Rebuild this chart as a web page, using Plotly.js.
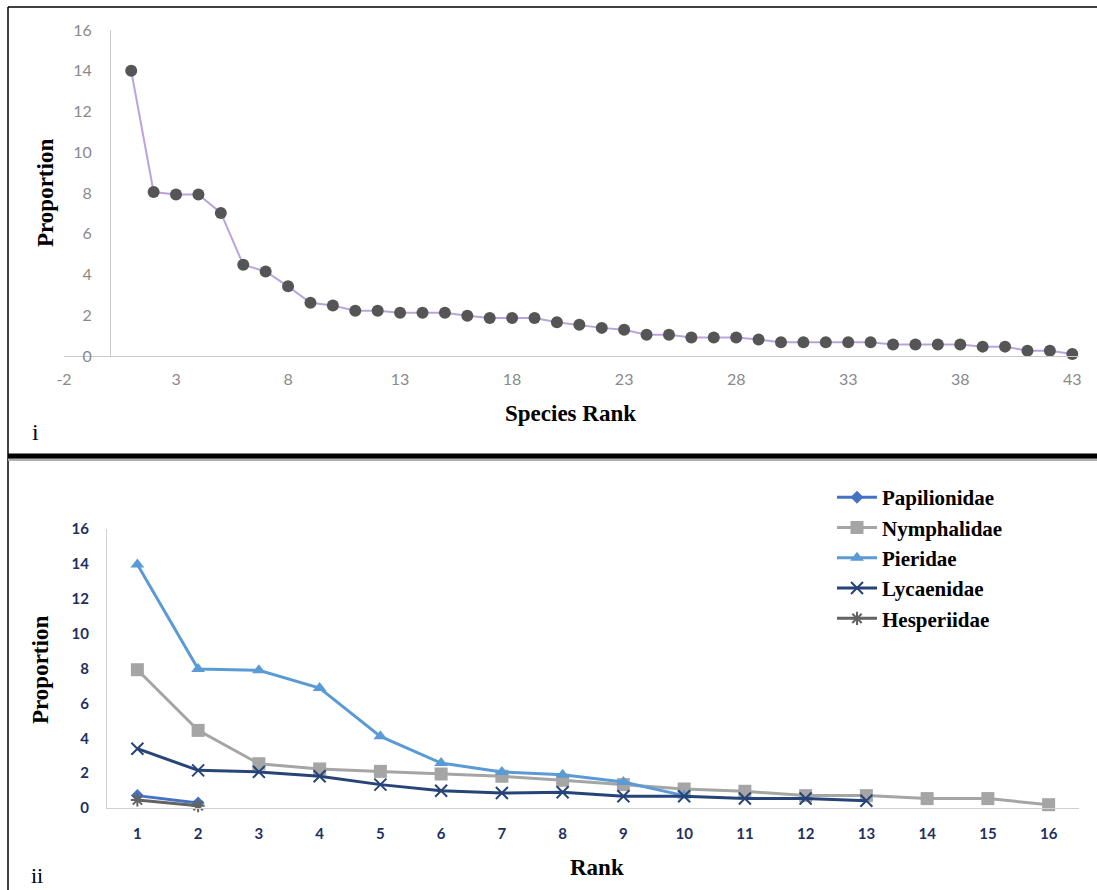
<!DOCTYPE html>
<html>
<head>
<meta charset="utf-8">
<script src="https://cdn.plot.ly/plotly-3.0.1.min.js"></script>
<style>
html,body{margin:0;padding:0;background:#fff;}
#chart{width:1097px;height:890px;}
</style>
</head>
<body>
<div id="chart"></div>
<script>
// ---- Panel i: species rank abundance ----
var speciesRank = [1,2,3,4,5,6,7,8,9,10,11,12,13,14,15,16,17,18,19,20,21,22,23,24,25,26,27,28,29,30,31,32,33,34,35,36,37,38,39,40,41,42,43];
var speciesProportion = [14.0,8.05,7.93,7.93,7.02,4.48,4.15,3.42,2.61,2.48,2.22,2.22,2.12,2.12,2.12,1.97,1.87,1.87,1.87,
  1.66,1.53,1.38,1.29,1.04,1.04,0.91,0.91,0.91,0.81,0.68,0.68,0.68,0.68,0.68,0.57,0.57,0.57,0.57,0.46,0.46,0.26,0.26,0.1];
var topXTicks = [-2,3,8,13,18,23,28,33,38,43];
var yTicks = [0,2,4,6,8,10,12,14,16];

// ---- Panel ii: rank by family ----
var familyNames = ["Papilionidae","Nymphalidae","Pieridae","Lycaenidae","Hesperiidae"];
var papilionidae = [0.71,0.29];
var nymphalidae = [7.93,4.45,2.54,2.24,2.1,1.95,1.82,1.59,1.34,1.09,0.96,0.71,0.71,0.54,0.54,0.19];
var pieridae = [13.96,7.97,7.9,6.88,4.11,2.58,2.07,1.91,1.49,0.71];
var lycaenidae = [3.4,2.16,2.07,1.82,1.34,0.99,0.86,0.9,0.67,0.67,0.54,0.54,0.42];
var hesperiidae = [0.46,0.13];
var rankTicks = [1,2,3,4,5,6,7,8,9,10,11,12,13,14,15,16];

function ranks(arr){ return arr.map(function(_, i){ return rankTicks[i]; }); }

var W = 1097, H = 890;
function px(x){ return x / W; }
function py(y){ return 1 - y / H; }

var serif = "Liberation Serif, Times New Roman, serif";
var sans = "Lato, Open Sans, sans-serif";
var navy = "#1f3060";

var traces = [
  {x: speciesRank, y: speciesProportion, xaxis: "x", yaxis: "y", type: "scatter", mode: "lines+markers",
   line: {color: "#b9a4e0", width: 2}, marker: {color: "#555555", size: 12, symbol: "circle"},
   showlegend: false, cliponaxis: false},
  {x: ranks(papilionidae), y: papilionidae, name: familyNames[0], legendgroup: "a", xaxis: "x2", yaxis: "y2",
   type: "scatter", mode: "lines+markers", line: {color: "#4472c4", width: 3},
   marker: {color: "#4472c4", size: 10, symbol: "diamond"}, cliponaxis: false},
  {x: ranks(nymphalidae), y: nymphalidae, name: familyNames[1], legendgroup: "b", xaxis: "x2", yaxis: "y2",
   type: "scatter", mode: "lines+markers", line: {color: "#a5a5a5", width: 3},
   marker: {color: "#a5a5a5", size: 13, symbol: "square"}, cliponaxis: false},
  {x: ranks(pieridae), y: pieridae, name: familyNames[2], legendgroup: "c", xaxis: "x2", yaxis: "y2",
   type: "scatter", mode: "lines+markers", line: {color: "#5b9bd5", width: 3},
   marker: {color: "#5b9bd5", size: 12, symbol: "triangle-up"}, cliponaxis: false},
  {x: ranks(lycaenidae), y: lycaenidae, name: familyNames[3], legendgroup: "d", xaxis: "x2", yaxis: "y2",
   type: "scatter", mode: "lines+markers", line: {color: "#264478", width: 3},
   marker: {color: "#264478", size: 12, symbol: "x-thin-open", line: {color: "#264478", width: 2}}, cliponaxis: false},
  {x: ranks(hesperiidae), y: hesperiidae, name: familyNames[4], legendgroup: "e", xaxis: "x2", yaxis: "y2",
   type: "scatter", mode: "lines+markers", line: {color: "#636363", width: 3},
   marker: {color: "#636363", size: 11, symbol: "asterisk-open", line: {color: "#636363", width: 2}}, cliponaxis: false}
];

var layout = {
  width: W, height: H,
  margin: {l: 0, r: 0, t: 0, b: 0},
  paper_bgcolor: "#fff", plot_bgcolor: "rgba(0,0,0,0)",
  showlegend: true,
  xaxis: {domain: [px(64), px(1079)], range: [-2, 43.3], tickvals: topXTicks, ticktext: topXTicks.map(String),
          showline: true, linecolor: "#c8c8c8", linewidth: 1, showgrid: false, zeroline: false,
          ticks: "", ticklabelstandoff: 9, tickfont: {family: sans, size: 16, color: "#8a8a8a"}, anchor: "y"},
  yaxis: {domain: [py(356), py(30)], range: [0, 16], tickvals: yTicks, anchor: "free", position: px(110),
          showline: true, linecolor: "#c8c8c8", linewidth: 1, showgrid: false, zeroline: false,
          ticks: "", ticklabelstandoff: 15, tickfont: {family: sans, size: 16, color: "#8a8a8a"}},
  xaxis2: {domain: [px(107), px(1079)], range: [0.5, 16.5], tickvals: rankTicks, anchor: "y2",
           showline: true, linecolor: "#d0d0d0", linewidth: 1, showgrid: false, zeroline: false,
           ticks: "", ticklabelstandoff: 12, tickfont: {family: sans, size: 15, color: navy, weight: "bold"}},
  yaxis2: {domain: [py(808), py(529)], range: [0, 16], tickvals: yTicks, anchor: "x2",
           showline: true, linecolor: "#d0d0d0", linewidth: 1, showgrid: false, zeroline: false,
           ticks: "", ticklabelstandoff: 14, tickfont: {family: sans, size: 15, color: navy, weight: "bold"}},
  legend: {x: px(832), y: py(477), xanchor: "left", yanchor: "top", bgcolor: "rgba(0,0,0,0)",
           font: {family: serif, size: 21, color: "#000", weight: "bold"}, tracegroupgap: 0, itemwidth: 40},
  annotations: [
    {text: "<b>Proportion</b>", xref: "paper", yref: "paper", x: px(45), y: py(193), textangle: -90,
     showarrow: false, font: {family: serif, size: 23, color: "#000"}, xanchor: "center", yanchor: "middle"},
    {text: "<b>Species Rank</b>", xref: "paper", yref: "paper", x: px(570), y: py(413),
     showarrow: false, font: {family: serif, size: 23, color: "#000"}, xanchor: "center", yanchor: "middle"},
    {text: "i", xref: "paper", yref: "paper", x: px(35), y: py(432),
     showarrow: false, font: {family: serif, size: 24, color: "#000"}, xanchor: "center", yanchor: "middle"},
    {text: "<b>Proportion</b>", xref: "paper", yref: "paper", x: px(40), y: py(670), textangle: -90,
     showarrow: false, font: {family: serif, size: 23, color: "#000"}, xanchor: "center", yanchor: "middle"},
    {text: "<b>Rank</b>", xref: "paper", yref: "paper", x: px(597), y: py(867),
     showarrow: false, font: {family: serif, size: 23, color: "#000"}, xanchor: "center", yanchor: "middle"},
    {text: "ii", xref: "paper", yref: "paper", x: px(37), y: py(875),
     showarrow: false, font: {family: serif, size: 22, color: "#000"}, xanchor: "center", yanchor: "middle"}
  ],
  shapes: [
    {type: "line", xref: "paper", yref: "paper", x0: px(8), x1: 1, y0: py(7), y1: py(7), line: {color: "#000", width: 1.5}},
    {type: "line", xref: "paper", yref: "paper", x0: px(8), x1: px(8), y0: py(7), y1: 0, line: {color: "#000", width: 1.5}},
    {type: "line", xref: "paper", yref: "paper", x0: px(8), x1: 1, y0: py(459), y1: py(459), line: {color: "#b0b0b0", width: 4}},
    {type: "line", xref: "paper", yref: "paper", x0: px(8), x1: 1, y0: py(456), y1: py(456), line: {color: "#000", width: 5}}
  ]
};

Plotly.newPlot("chart", traces, layout, {displayModeBar: false, staticPlot: true});
</script>
</body>
</html>
